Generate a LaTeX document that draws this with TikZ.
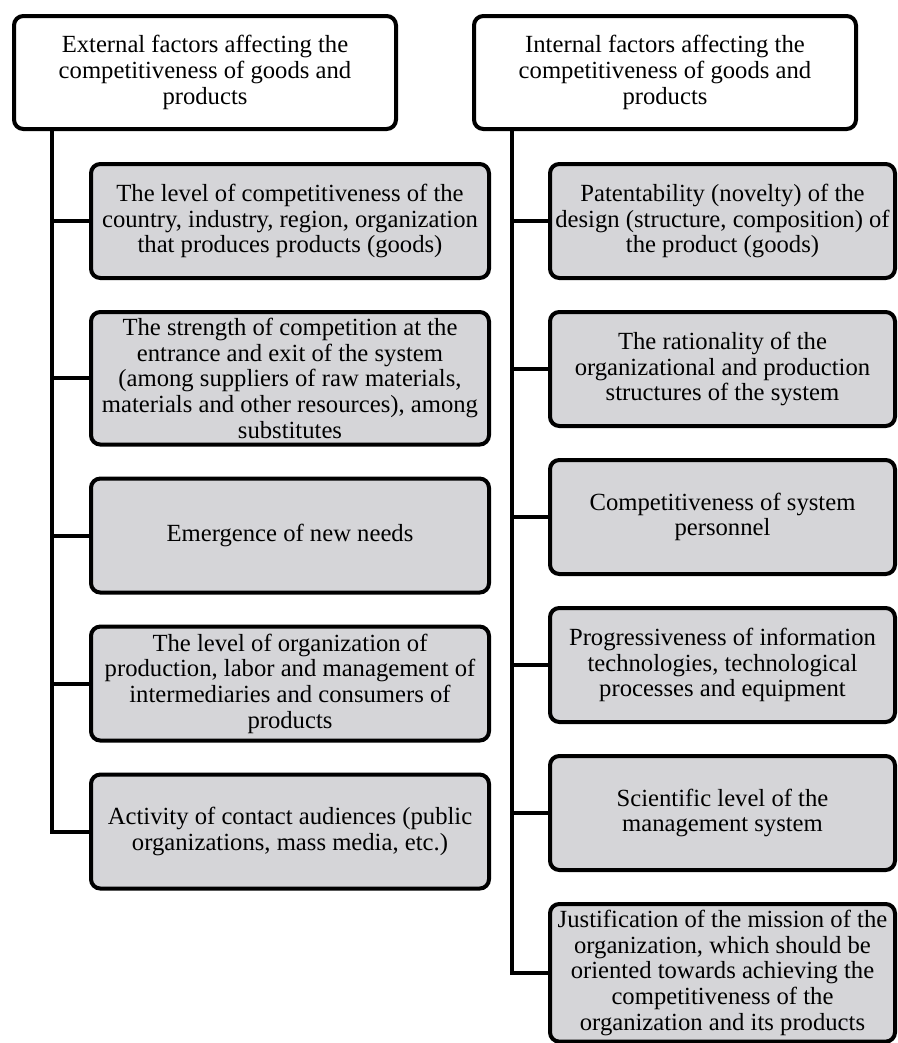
\documentclass[tikz,border=0pt]{standalone}
\usepackage{fontspec}
\setmainfont{Liberation Serif}
\usepackage{tikz}
\usetikzlibrary{positioning,calc}
\definecolor{factorgray}{HTML}{D5D5D8}
\tikzset{
  hdrnode/.style={rounded corners=7pt, draw=black, fill=white, line width=3pt, outer sep=0pt, align=center, font=\fontsize{18.5}{19.3}\selectfont, minimum width=286.5pt, minimum height=84.75pt, inner sep=3pt},
  factornode/.style={rounded corners=7pt, draw=black, fill=factorgray, line width=3pt, outer sep=0pt, align=center, font=\fontsize{18.5}{19.3}\selectfont, minimum height=85.5pt, inner xsep=3pt, inner ysep=4.5pt},
  extnode/.style={factornode, minimum width=298.5pt},
  intnode/.style={factornode, minimum width=258.75pt},
  spine/.style={line width=3pt, draw=black}
}
\begin{document}
\begin{tikzpicture}[x=0.75pt, y=-0.75pt, node distance=25.5pt]
  \useasboundingbox (0,0) rectangle (898,1043);
  \node[hdrnode, anchor=north west] (exthdr) at (14,16) {External factors affecting the\\competitiveness of goods and\\products};
  \node[hdrnode, right=58.5pt of exthdr] (inthdr) {Internal factors affecting the\\competitiveness of goods and\\products};
  \node[extnode, below right=26.25pt and 57.75pt of exthdr.south west] (ext1) {The level of competitiveness of the\\country, industry, region, organization\\that produces products (goods)};
  \node[extnode, below=of ext1] (ext2) {The strength of competition at the\\entrance and exit of the system\\(among suppliers of raw materials,\\materials and other resources), among\\substitutes};
  \node[extnode, below=of ext2] (ext3) {Emergence of new needs};
  \node[extnode, below=of ext3] (ext4) {The level of organization of\\production, labor and management of\\intermediaries and consumers of\\products};
  \node[extnode, below=of ext4] (ext5) {Activity of contact audiences (public\\organizations, mass media, etc.)};
  \node[intnode, below right=26.25pt and 57pt of inthdr.south west] (int1) {Patentability (novelty) of the\\design (structure, composition) of\\the product (goods)};
  \node[intnode, below=of int1] (int2) {The rationality of the\\organizational and production\\structures of the system};
  \node[intnode, below=of int2] (int3) {Competitiveness of system\\personnel};
  \node[intnode, below=of int3] (int4) {Progressiveness of information\\technologies, technological\\processes and equipment};
  \node[intnode, below=of int4] (int5) {Scientific level of the\\management system};
  \node[intnode, below=of int5] (int6) {Justification of the mission of the\\organization, which should be\\oriented towards achieving the\\competitiveness of the\\organization and its products};
  \coordinate (extspine) at ($(exthdr.south west)+(28.5pt,0)$);
  \coordinate (intspine) at ($(inthdr.south west)+(28.5pt,0)$);
  \draw[spine] (extspine) |- (ext5.west);
  \foreach \i in {1,...,4} \draw[spine] (extspine |- ext\i.west) -- (ext\i.west);
  \draw[spine] (intspine) |- (int6.west);
  \foreach \i in {1,...,5} \draw[spine] (intspine |- int\i.west) -- (int\i.west);
\end{tikzpicture}
\end{document}
